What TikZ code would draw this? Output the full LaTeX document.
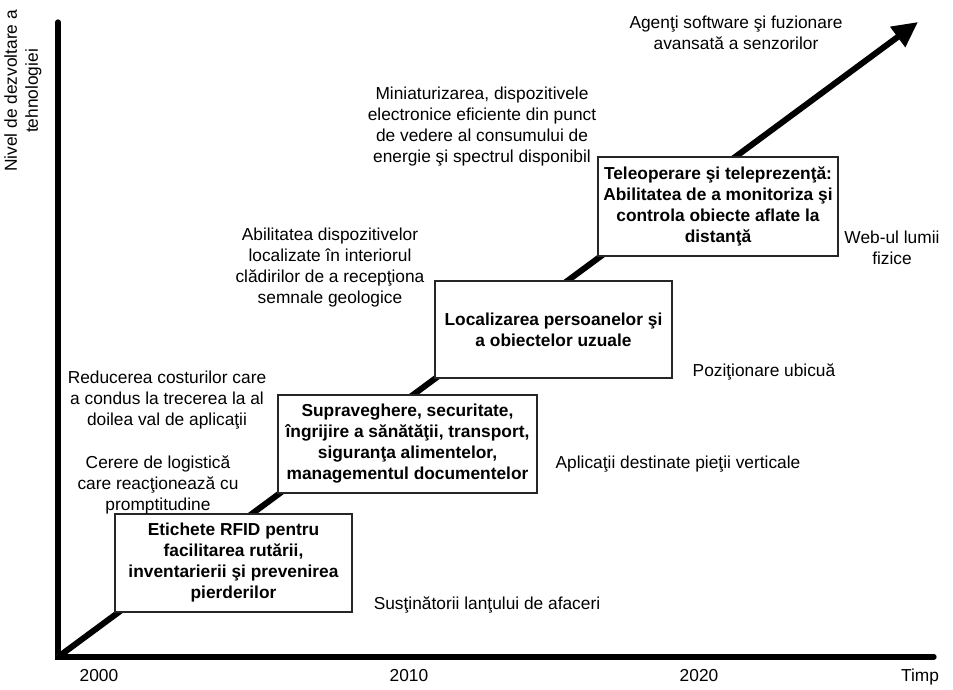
\documentclass[tikz,border=0pt]{standalone}
\usepackage{fontspec}
\setmainfont{Liberation Sans}
\usetikzlibrary{positioning}
\usetikzlibrary{arrows.meta}

\begin{document}
\begin{tikzpicture}[x=0.75pt,y=-0.75pt,
        txt/.style={align=center,inner sep=0pt,font=\fontsize{13}{15.75}\selectfont},
        an/.style={anchor=base,inner sep=0pt,font=\fontsize{13}{15.75}\selectfont},
        etapa/.style={draw=black!85,fill=white,line width=0.8pt,align=center,inner sep=0pt,
            font=\fontsize{13}{15.75}\selectfont\bfseries},
        axa/.style={line width=4pt,line cap=round}]
            \useasboundingbox (0,0) rectangle (953,689);
            %\node at (480,10) {axe};
            \coordinate (O) at (58,657);
            \coordinate (Ysus) at (58,22);
            \coordinate (Xcap) at (934,657);
            \coordinate (Varf) at (918,22);
            \draw[axa] (Ysus) -- (O) -- (Xcap);
            \draw[line width=4.5pt,-{Triangle[length=19pt,width=18pt]}] (O) -- (Varf);

            \node[txt,rotate=90] (ynume) at (23,91) {Nivel de dezvoltare a\\tehnologiei};
            \node[an] (t2000) at (99,681) {2000};
            \node[an] (t2010) at (409,681) {2010};
            \node[an] (t2020) at (699,681) {2020};
            \node[an] (timp) at (920,681) {Timp};

        % etapele de pe sageata
            \node [etapa,minimum width=177.75pt,minimum height=73.5pt](E1) at (233.5,563)
                {Etichete RFID pentru\\facilitarea rutării,\\inventarierii şi prevenirea\\pierderilor};
            \node [etapa,minimum width=194.25pt,minimum height=73.5pt](E2) at (407.5,444)
                {Supraveghere, securitate,\\îngrijire a sănătăţii, transport,\\siguranţa alimentelor,\\managementul documentelor};
            \node [etapa,minimum width=177.75pt,minimum height=72.75pt](E3) at (553.5,329.5)
                {Localizarea persoanelor şi\\a obiectelor uzuale};
            \node [etapa,minimum width=180pt,minimum height=74.25pt](E4) at (718,206.5)
                {Teleoperare şi teleprezenţă:\\Abilitatea de a monitoriza şi\\controla obiecte aflate la\\distanţă};

        % factori si aplicatii
            \node[txt] (F1) at (158,485) {Cerere de logistică\\care reacţionează cu\\promptitudine};
            \node[txt] (F2) at (167,400) {Reducerea costurilor care\\a condus la trecerea la al\\doilea val de aplicaţii};
            \node[txt] (F3) at (330,268) {Abilitatea dispozitivelor\\localizate în interiorul\\clădirilor de a recepţiona\\semnale geologice};
            \node[txt] (F4) at (482,126.5) {Miniaturizarea, dispozitivele\\electronice eficiente din punct\\de vedere al consumului de\\energie şi spectrul disponibil};
            \node[txt] (F5) at (736,33) {Agenţi software şi fuzionare\\avansată a senzorilor};

            \node[txt] (A1) at (487,605) {Susţinătorii lanţului de afaceri};
            \node[txt] (A2) at (678,464) {Aplicaţii destinate pieţii verticale};
            \node[txt] (A3) at (764,372) {Poziţionare ubicuă};
            \node[txt] (A4) at (892,247.5) {Web-ul lumii\\fizice};
\end{tikzpicture}
\end{document}
